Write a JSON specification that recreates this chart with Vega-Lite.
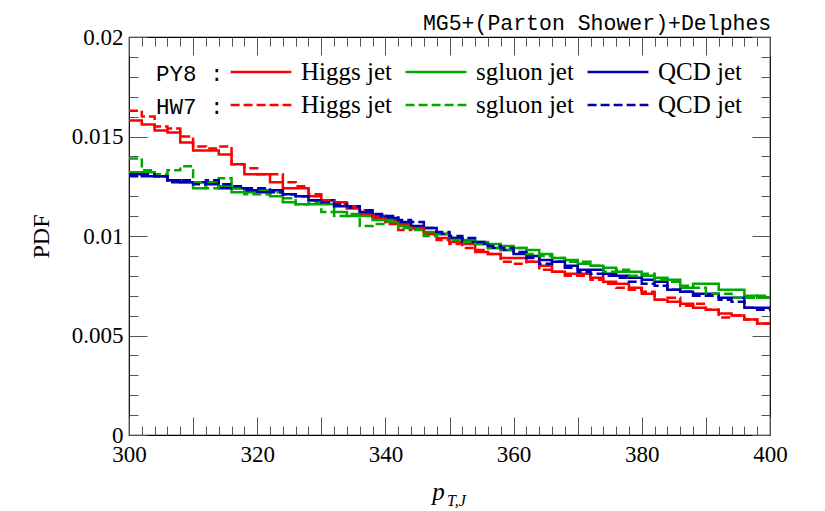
{
  "$schema": "https://vega.github.io/schema/vega-lite/v6.json",
  "width": 641,
  "height": 398,
  "autosize": {"type": "none"},
  "padding": {"left": 129, "top": 37, "right": 55, "bottom": 76},
  "title": {"text": "MG5+(Parton Shower)+Delphes", "anchor": "end", "font": "Liberation Mono", "fontSize": 21.5, "fontWeight": "normal", "color": "black", "baseline": "alphabetic", "offset": -1, "dx": -16, "dy": 24},
  "data": {"values": [
    {"pt":300,"PY8 Higgs":0.0158,"PY8 sgluon":0.0132,"PY8 QCD":0.0131,"HW7 Higgs":0.0163,"HW7 sgluon":0.0139,"HW7 QCD":0.0130},
    {"pt":302,"PY8 Higgs":0.0156,"PY8 sgluon":0.0132,"PY8 QCD":0.0130,"HW7 Higgs":0.0160,"HW7 sgluon":0.0133,"HW7 QCD":0.0131},
    {"pt":304,"PY8 Higgs":0.0153,"PY8 sgluon":0.0130,"PY8 QCD":0.0130,"HW7 Higgs":0.0155,"HW7 sgluon":0.0131,"HW7 QCD":0.0130},
    {"pt":306,"PY8 Higgs":0.0152,"PY8 sgluon":0.0128,"PY8 QCD":0.0128,"HW7 Higgs":0.0154,"HW7 sgluon":0.0133,"HW7 QCD":0.0127},
    {"pt":308,"PY8 Higgs":0.0147,"PY8 sgluon":0.0127,"PY8 QCD":0.0127,"HW7 Higgs":0.0150,"HW7 sgluon":0.0135,"HW7 QCD":0.0128},
    {"pt":310,"PY8 Higgs":0.0143,"PY8 sgluon":0.0124,"PY8 QCD":0.0127,"HW7 Higgs":0.0145,"HW7 sgluon":0.0127,"HW7 QCD":0.0126},
    {"pt":312,"PY8 Higgs":0.0143,"PY8 sgluon":0.0127,"PY8 QCD":0.0126,"HW7 Higgs":0.0144,"HW7 sgluon":0.0124,"HW7 QCD":0.0128},
    {"pt":314,"PY8 Higgs":0.0141,"PY8 sgluon":0.0125,"PY8 QCD":0.0124,"HW7 Higgs":0.0145,"HW7 sgluon":0.0129,"HW7 QCD":0.0126},
    {"pt":316,"PY8 Higgs":0.0136,"PY8 sgluon":0.0122,"PY8 QCD":0.0124,"HW7 Higgs":0.0136,"HW7 sgluon":0.0124,"HW7 QCD":0.0125},
    {"pt":318,"PY8 Higgs":0.0131,"PY8 sgluon":0.0122,"PY8 QCD":0.0123,"HW7 Higgs":0.0134,"HW7 sgluon":0.0121,"HW7 QCD":0.0124},
    {"pt":320,"PY8 Higgs":0.0131,"PY8 sgluon":0.0123,"PY8 QCD":0.0122,"HW7 Higgs":0.0131,"HW7 sgluon":0.0121,"HW7 QCD":0.0124},
    {"pt":322,"PY8 Higgs":0.0127,"PY8 sgluon":0.0120,"PY8 QCD":0.0123,"HW7 Higgs":0.0131,"HW7 sgluon":0.0122,"HW7 QCD":0.0122},
    {"pt":324,"PY8 Higgs":0.0124,"PY8 sgluon":0.0117,"PY8 QCD":0.0121,"HW7 Higgs":0.0127,"HW7 sgluon":0.0119,"HW7 QCD":0.0121},
    {"pt":326,"PY8 Higgs":0.0124,"PY8 sgluon":0.0116,"PY8 QCD":0.0120,"HW7 Higgs":0.0125,"HW7 sgluon":0.0116,"HW7 QCD":0.0120},
    {"pt":328,"PY8 Higgs":0.0120,"PY8 sgluon":0.0116,"PY8 QCD":0.0118,"HW7 Higgs":0.0121,"HW7 sgluon":0.0117,"HW7 QCD":0.0118},
    {"pt":330,"PY8 Higgs":0.0118,"PY8 sgluon":0.0116,"PY8 QCD":0.0118,"HW7 Higgs":0.0118,"HW7 sgluon":0.0112,"HW7 QCD":0.0117},
    {"pt":332,"PY8 Higgs":0.0117,"PY8 sgluon":0.0112,"PY8 QCD":0.0115,"HW7 Higgs":0.0116,"HW7 sgluon":0.0110,"HW7 QCD":0.0116},
    {"pt":334,"PY8 Higgs":0.0115,"PY8 sgluon":0.0110,"PY8 QCD":0.0114,"HW7 Higgs":0.0114,"HW7 sgluon":0.0111,"HW7 QCD":0.0115},
    {"pt":336,"PY8 Higgs":0.0111,"PY8 sgluon":0.0110,"PY8 QCD":0.0112,"HW7 Higgs":0.0113,"HW7 sgluon":0.0105,"HW7 QCD":0.0113},
    {"pt":338,"PY8 Higgs":0.0109,"PY8 sgluon":0.0108,"PY8 QCD":0.0110,"HW7 Higgs":0.0110,"HW7 sgluon":0.0106,"HW7 QCD":0.0111},
    {"pt":340,"PY8 Higgs":0.0108,"PY8 sgluon":0.0107,"PY8 QCD":0.0109,"HW7 Higgs":0.0106,"HW7 sgluon":0.0108,"HW7 QCD":0.0110},
    {"pt":342,"PY8 Higgs":0.0106,"PY8 sgluon":0.0105,"PY8 QCD":0.0107,"HW7 Higgs":0.0103,"HW7 sgluon":0.0104,"HW7 QCD":0.0108},
    {"pt":344,"PY8 Higgs":0.0104,"PY8 sgluon":0.0104,"PY8 QCD":0.0105,"HW7 Higgs":0.0104,"HW7 sgluon":0.0103,"HW7 QCD":0.0107},
    {"pt":346,"PY8 Higgs":0.0101,"PY8 sgluon":0.0102,"PY8 QCD":0.0104,"HW7 Higgs":0.0101,"HW7 sgluon":0.0100,"HW7 QCD":0.0104},
    {"pt":348,"PY8 Higgs":0.0099,"PY8 sgluon":0.0101,"PY8 QCD":0.0101,"HW7 Higgs":0.0098,"HW7 sgluon":0.0101,"HW7 QCD":0.0102},
    {"pt":350,"PY8 Higgs":0.0097,"PY8 sgluon":0.0099,"PY8 QCD":0.0099,"HW7 Higgs":0.0096,"HW7 sgluon":0.0098,"HW7 QCD":0.0100},
    {"pt":352,"PY8 Higgs":0.0096,"PY8 sgluon":0.0098,"PY8 QCD":0.0097,"HW7 Higgs":0.0094,"HW7 sgluon":0.0097,"HW7 QCD":0.0099},
    {"pt":354,"PY8 Higgs":0.0092,"PY8 sgluon":0.0097,"PY8 QCD":0.0096,"HW7 Higgs":0.0093,"HW7 sgluon":0.0096,"HW7 QCD":0.0097},
    {"pt":356,"PY8 Higgs":0.0091,"PY8 sgluon":0.0096,"PY8 QCD":0.0094,"HW7 Higgs":0.0091,"HW7 sgluon":0.0094,"HW7 QCD":0.0095},
    {"pt":358,"PY8 Higgs":0.0089,"PY8 sgluon":0.0095,"PY8 QCD":0.0093,"HW7 Higgs":0.0087,"HW7 sgluon":0.0093,"HW7 QCD":0.0094},
    {"pt":360,"PY8 Higgs":0.0089,"PY8 sgluon":0.0094,"PY8 QCD":0.0091,"HW7 Higgs":0.0086,"HW7 sgluon":0.0094,"HW7 QCD":0.0092},
    {"pt":362,"PY8 Higgs":0.0087,"PY8 sgluon":0.0093,"PY8 QCD":0.0090,"HW7 Higgs":0.0087,"HW7 sgluon":0.0091,"HW7 QCD":0.0089},
    {"pt":364,"PY8 Higgs":0.0085,"PY8 sgluon":0.0091,"PY8 QCD":0.0088,"HW7 Higgs":0.0083,"HW7 sgluon":0.0090,"HW7 QCD":0.0086},
    {"pt":366,"PY8 Higgs":0.0082,"PY8 sgluon":0.0089,"PY8 QCD":0.0087,"HW7 Higgs":0.0082,"HW7 sgluon":0.0089,"HW7 QCD":0.0087},
    {"pt":368,"PY8 Higgs":0.0081,"PY8 sgluon":0.0088,"PY8 QCD":0.0085,"HW7 Higgs":0.0080,"HW7 sgluon":0.0087,"HW7 QCD":0.0084},
    {"pt":370,"PY8 Higgs":0.0081,"PY8 sgluon":0.0086,"PY8 QCD":0.0083,"HW7 Higgs":0.0080,"HW7 sgluon":0.0087,"HW7 QCD":0.0082},
    {"pt":372,"PY8 Higgs":0.0079,"PY8 sgluon":0.0085,"PY8 QCD":0.0083,"HW7 Higgs":0.0078,"HW7 sgluon":0.0085,"HW7 QCD":0.0081},
    {"pt":374,"PY8 Higgs":0.0077,"PY8 sgluon":0.0084,"PY8 QCD":0.0081,"HW7 Higgs":0.0076,"HW7 sgluon":0.0082,"HW7 QCD":0.0080},
    {"pt":376,"PY8 Higgs":0.0076,"PY8 sgluon":0.0082,"PY8 QCD":0.0080,"HW7 Higgs":0.0074,"HW7 sgluon":0.0083,"HW7 QCD":0.0079},
    {"pt":378,"PY8 Higgs":0.0074,"PY8 sgluon":0.0082,"PY8 QCD":0.0079,"HW7 Higgs":0.0073,"HW7 sgluon":0.0080,"HW7 QCD":0.0077},
    {"pt":380,"PY8 Higgs":0.0071,"PY8 sgluon":0.0080,"PY8 QCD":0.0078,"HW7 Higgs":0.0072,"HW7 sgluon":0.0081,"HW7 QCD":0.0076},
    {"pt":382,"PY8 Higgs":0.0068,"PY8 sgluon":0.0079,"PY8 QCD":0.0077,"HW7 Higgs":0.0068,"HW7 sgluon":0.0078,"HW7 QCD":0.0075},
    {"pt":384,"PY8 Higgs":0.0067,"PY8 sgluon":0.0078,"PY8 QCD":0.0073,"HW7 Higgs":0.0069,"HW7 sgluon":0.0077,"HW7 QCD":0.0073},
    {"pt":386,"PY8 Higgs":0.0066,"PY8 sgluon":0.0074,"PY8 QCD":0.0072,"HW7 Higgs":0.0065,"HW7 sgluon":0.0075,"HW7 QCD":0.0072},
    {"pt":388,"PY8 Higgs":0.0064,"PY8 sgluon":0.0076,"PY8 QCD":0.0071,"HW7 Higgs":0.0066,"HW7 sgluon":0.0074,"HW7 QCD":0.0070},
    {"pt":390,"PY8 Higgs":0.0063,"PY8 sgluon":0.0076,"PY8 QCD":0.0071,"HW7 Higgs":0.0063,"HW7 sgluon":0.0071,"HW7 QCD":0.0070},
    {"pt":392,"PY8 Higgs":0.0061,"PY8 sgluon":0.0073,"PY8 QCD":0.0069,"HW7 Higgs":0.0059,"HW7 sgluon":0.0071,"HW7 QCD":0.0068},
    {"pt":394,"PY8 Higgs":0.0060,"PY8 sgluon":0.0073,"PY8 QCD":0.0069,"HW7 Higgs":0.0060,"HW7 sgluon":0.0069,"HW7 QCD":0.0067},
    {"pt":396,"PY8 Higgs":0.0058,"PY8 sgluon":0.0070,"PY8 QCD":0.0064,"HW7 Higgs":0.0058,"HW7 sgluon":0.0069,"HW7 QCD":0.0064},
    {"pt":398,"PY8 Higgs":0.0056,"PY8 sgluon":0.0069,"PY8 QCD":0.0064,"HW7 Higgs":0.0056,"HW7 sgluon":0.0070,"HW7 QCD":0.0063},
    {"pt":400,"PY8 Higgs":0.0056,"PY8 sgluon":0.0069,"PY8 QCD":0.0064,"HW7 Higgs":0.0056,"HW7 sgluon":0.0070,"HW7 QCD":0.0063}
  ]},
  "transform": [
    {"fold": ["PY8 Higgs", "PY8 sgluon", "PY8 QCD", "HW7 Higgs", "HW7 sgluon", "HW7 QCD"], "as": ["series", "pdf"]}
  ],
  "layer": [
    {
      "transform": [{"filter": {"field": "series", "oneOf": ["PY8 Higgs", "PY8 sgluon", "PY8 QCD"]}}],
      "mark": {"type": "line", "interpolate": "step-after", "strokeWidth": 2.5, "clip": true},
      "encoding": {
        "x": {"field": "pt", "type": "quantitative", "scale": {"domain": [300, 400], "nice": false, "zero": false},
          "axis": {"values": [300, 320, 340, 360, 380, 400], "ticks": false, "domain": false, "labelFlush": false, "labelOverlap": false, "labelPadding": 8,
            "title": "p", "titleFontStyle": "italic", "titleFontSize": 25, "titleX": 309, "titleY": 64, "titleBaseline": "alphabetic", "titleAnchor": null}},
        "y": {"field": "pdf", "type": "quantitative", "scale": {"domain": [0, 0.02], "nice": false, "zero": true},
          "axis": {"values": [0, 0.005, 0.01, 0.015, 0.02], "ticks": false, "domain": false, "labelOverlap": false, "labelPadding": 6,
            "labelExpr": "format(datum.value, '~g')", "title": "PDF", "titlePadding": 18, "titleFontSize": 24}},
        "color": {"field": "series", "type": "nominal",
          "scale": {"domain": ["PY8 Higgs", "PY8 sgluon", "PY8 QCD"], "range": ["#ff0000", "#00a800", "#0000b0"]},
          "legend": {"orient": "none", "legendX": 27, "legendY": 3, "direction": "horizontal",
            "title": "PY8 :", "titleOrient": "left", "titleFont": "Liberation Mono", "titleFontSize": 22.5, "titleFontWeight": "normal",
            "titlePadding": 5, "titleColor": "black", "titleBaseline": "top", "titleAnchor": "middle",
            "symbolType": "stroke", "symbolSize": 3700, "symbolStrokeWidth": 2.5,
            "labelFont": "Liberation Serif", "labelFontSize": 25, "labelColor": "black", "labelOffset": 8,
            "labelExpr": "slice(datum.label, 4) + ' jet'", "columnPadding": 8, "labelLimit": 300}}
      }
    },
    {
      "transform": [{"filter": {"field": "series", "oneOf": ["HW7 Higgs", "HW7 sgluon", "HW7 QCD"]}}],
      "mark": {"type": "line", "interpolate": "step-after", "strokeWidth": 2.5, "strokeDash": [9, 4], "clip": true},
      "encoding": {
        "x": {"field": "pt", "type": "quantitative", "axis": null},
        "y": {"field": "pdf", "type": "quantitative", "axis": null},
        "color": {"field": "series", "type": "nominal",
          "scale": {"domain": ["HW7 Higgs", "HW7 sgluon", "HW7 QCD"], "range": ["#ff0000", "#00a800", "#0000b0"]},
          "legend": {"orient": "none", "legendX": 27, "legendY": 36, "direction": "horizontal",
            "title": "HW7 :", "titleOrient": "left", "titleFont": "Liberation Mono", "titleFontSize": 22.5, "titleFontWeight": "normal",
            "titlePadding": 5, "titleColor": "black", "titleBaseline": "top", "titleAnchor": "middle",
            "symbolType": "stroke", "symbolSize": 3700, "symbolStrokeWidth": 2.5, "symbolDash": [9, 4],
            "labelFont": "Liberation Serif", "labelFontSize": 25, "labelColor": "black", "labelOffset": 8,
            "labelExpr": "slice(datum.label, 4) + ' jet'", "columnPadding": 8, "labelLimit": 300}}
      }
    },
    {
      "mark": {"type": "point", "opacity": 0},
      "encoding": {
        "x": {"field": "pt", "type": "quantitative", "axis": {"orient": "bottom", "values": [300,310,320,330,340,350,360,370,380,390,400], "labels": false, "domain": false, "offset": -18, "tickSize": 18, "title": "T,J", "titleFontStyle": "italic", "titleFontSize": 16, "titleX": 327, "titleY": 88, "titleBaseline": "alphabetic", "titleAnchor": null}},
        "y": {"field": "pdf", "type": "quantitative", "axis": {"orient": "left", "values": [0, 0.005, 0.01, 0.015, 0.02], "labels": false, "domain": false, "offset": -18, "tickSize": 18, "title": null}}
      }
    },
    {
      "mark": {"type": "point", "opacity": 0},
      "encoding": {
        "x": {"field": "pt", "type": "quantitative", "axis": {"orient": "bottom", "values": [302,304,306,308,312,314,316,318,322,324,326,328,332,334,336,338,342,344,346,348,352,354,356,358,362,364,366,368,372,374,376,378,382,384,386,388,392,394,396,398], "labels": false, "domain": false, "offset": -9, "tickSize": 9, "title": null}},
        "y": {"field": "pdf", "type": "quantitative", "axis": {"orient": "left", "values": [0.001,0.002,0.003,0.004,0.006,0.007,0.008,0.009,0.011,0.012,0.013,0.014,0.016,0.017,0.018,0.019], "labels": false, "domain": false, "offset": -9, "tickSize": 9, "title": null}}
      }
    },
    {
      "mark": {"type": "point", "opacity": 0},
      "encoding": {
        "x": {"field": "pt", "type": "quantitative", "axis": {"orient": "top", "values": [300,310,320,330,340,350,360,370,380,390,400], "labels": false, "domain": false, "offset": -18, "tickSize": 18, "title": null}},
        "y": {"field": "pdf", "type": "quantitative", "axis": {"orient": "right", "values": [0, 0.005, 0.01, 0.015, 0.02], "labels": false, "domain": false, "offset": -18, "tickSize": 18, "title": null}}
      }
    },
    {
      "mark": {"type": "point", "opacity": 0},
      "encoding": {
        "x": {"field": "pt", "type": "quantitative", "axis": {"orient": "top", "values": [302,304,306,308,312,314,316,318,322,324,326,328,332,334,336,338,342,344,346,348,352,354,356,358,362,364,366,368,372,374,376,378,382,384,386,388,392,394,396,398], "labels": false, "domain": false, "offset": -9, "tickSize": 9, "title": null}},
        "y": {"field": "pdf", "type": "quantitative", "axis": {"orient": "right", "values": [0.001,0.002,0.003,0.004,0.006,0.007,0.008,0.009,0.011,0.012,0.013,0.014,0.016,0.017,0.018,0.019], "labels": false, "domain": false, "offset": -9, "tickSize": 9, "title": null}}
      }
    }
  ],
  "resolve": {"axis": {"x": "independent", "y": "independent"}, "scale": {"color": "independent"}},
  "config": {
    "view": {"stroke": "black", "strokeWidth": 1.2},
    "axis": {"grid": false, "labelFont": "Liberation Serif", "labelFontSize": 23, "labelColor": "black",
      "titleFont": "Liberation Serif", "titleFontWeight": "normal", "titleColor": "black", "tickColor": "#555555", "tickWidth": 1}
  }
}
